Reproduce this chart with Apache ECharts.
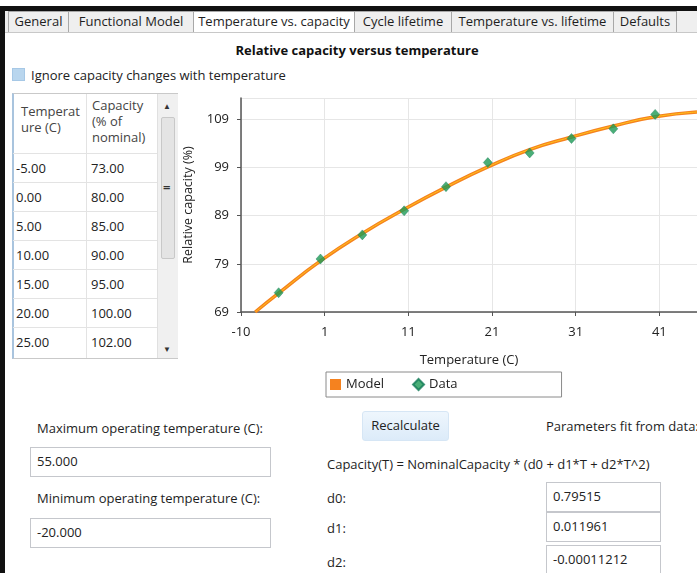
<!DOCTYPE html>
<html>
<head>
<meta charset="utf-8">
<script src="https://cdn.jsdelivr.net/npm/echarts@6/dist/echarts.min.js"></script>
<style>
  html, body { margin:0; padding:0; background:#fff; }
  #page { position:relative; width:697px; height:573px; overflow:hidden; background:#fff;
          font-family:"Open Sans","Noto Sans",sans-serif; font-size:13px; color:#1e1e1e; }
  .abs { position:absolute; white-space:nowrap; }
  .tab { position:absolute; top:11px; height:21px; background:#efefef; border:1px solid #a8a8a8;
         border-bottom:none; box-sizing:border-box; line-height:19px; text-align:center; font-size:13px; color:#1e1e1e; white-space:nowrap; }
  .tab.sel { background:#fff; }
  .tb { position:absolute; border:1px solid #c5c7cc; background:#fff; box-sizing:border-box;
        padding-left:6px; line-height:27px; font-size:13px; color:#222; }
  .cell { position:absolute; font-size:13px; color:#222; }
  .hline { position:absolute; height:1px; background:#e3e3e3; }
</style>
</head>
<body>
<div id="page">
  <!-- black frame -->
  <div class="abs" style="left:0;top:6px;width:697px;height:5px;background:#111;"></div>
  <div class="abs" style="left:0;top:6px;width:5px;height:567px;background:#111;"></div>

  <!-- tabs -->
  <div class="abs" style="left:5px;top:11px;width:692px;height:21px;background:#efefef;border-bottom:1px solid #c8c8c8;"></div>
  <div class="tab" style="left:8px;width:61px;">General</div>
  <div class="tab" style="left:68px;width:126px;">Functional Model</div>
  <div class="tab sel" style="left:193px;width:162px;">Temperature vs. capacity</div>
  <div class="tab" style="left:354px;width:98px;">Cycle lifetime</div>
  <div class="tab" style="left:451px;width:163px;">Temperature vs. lifetime</div>
  <div class="tab" style="left:613px;width:64px;">Defaults</div>

  <!-- title & checkbox -->
  <div class="abs" style="left:5px;width:704px;top:41px;text-align:center;font-weight:bold;font-size:13px;color:#111;">Relative capacity versus temperature</div>
  <div class="abs" style="left:12px;top:68px;width:11px;height:11px;background:#b9d6ee;border:1px solid #a6c8e6;"></div>
  <div class="abs" style="left:31px;top:66px;font-size:13px;color:#222;">Ignore capacity changes with temperature</div>

  <!-- data table -->
  <div class="abs" style="left:12px;top:93px;width:166px;height:266px;border:1px solid #c9c9c9;border-left:2px solid #a9c4de;box-sizing:border-box;background:#fff;"></div>
  <div class="abs" style="left:86px;top:94px;width:1px;height:264px;background:#e3e3e3;"></div>
  <div class="cell" style="left:21px;top:103px;line-height:16px;color:#444;">Temperat<br>ure (C)</div>
  <div class="cell" style="left:92px;top:97px;line-height:16px;color:#444;">Capacity<br>(% of<br>nominal)</div>
  <div class="hline" style="left:13px;top:153px;width:144px;"></div>
  <div class="hline" style="left:13px;top:182px;width:144px;"></div>
  <div class="hline" style="left:13px;top:211px;width:144px;"></div>
  <div class="hline" style="left:13px;top:240px;width:144px;"></div>
  <div class="hline" style="left:13px;top:269px;width:144px;"></div>
  <div class="hline" style="left:13px;top:298px;width:144px;"></div>
  <div class="hline" style="left:13px;top:327px;width:144px;"></div>
  <div id="tableRows"></div>
  <!-- scrollbar -->
  <div class="abs" style="left:157px;top:94px;width:20px;height:264px;background:#f0f0f0;border-left:1px solid #e0e0e0;"></div>
  <div class="abs" style="left:163px;top:100px;font-size:8px;color:#333;">&#9650;</div>
  <div class="abs" style="left:161px;top:117px;width:14px;height:142px;background:#e4e4e4;border:1px solid #c8c8c8;box-sizing:border-box;border-radius:2px;"></div>
  <div class="abs" style="left:163px;top:178px;font-size:13px;font-weight:bold;color:#333;">=</div>
  <div class="abs" style="left:163px;top:343px;font-size:8px;color:#333;">&#9660;</div>

  <!-- chart -->
  <div id="chart" class="abs" style="left:180px;top:85px;width:517px;height:320px;"></div>

  <!-- bottom controls -->
  <div class="abs" style="left:37px;top:419px;">Maximum operating temperature (C):</div>
  <div class="tb" style="left:30px;top:447px;width:241px;height:30px;">55.000</div>
  <div class="abs" style="left:37px;top:489px;">Minimum operating temperature (C):</div>
  <div class="tb" style="left:30px;top:518px;width:241px;height:30px;">-20.000</div>

  <div class="abs" style="left:362px;top:411px;width:87px;height:30px;border-radius:3px;border:1px solid #d6e6f5;background:linear-gradient(#eef6fd,#dcebf9);box-sizing:border-box;text-align:center;line-height:27px;color:#222;">Recalculate</div>
  <div class="abs" style="left:546px;top:417px;">Parameters fit from data:</div>
  <div class="abs" style="left:327px;top:455px;">Capacity(T) = NominalCapacity * (d0 + d1*T + d2*T^2)</div>
  <div class="abs" style="left:327px;top:489px;">d0:</div>
  <div class="abs" style="left:327px;top:519px;">d1:</div>
  <div class="abs" style="left:327px;top:553px;">d2:</div>
  <div class="tb" style="left:546px;top:482px;width:115px;height:30px;">0.79515</div>
  <div class="tb" style="left:546px;top:512px;width:115px;height:30px;">0.011961</div>
  <div class="tb" style="left:546px;top:545px;width:115px;height:30px;">-0.00011212</div>
</div>

<script>
// ---- data ----
var tableTemps = ['-5.00','0.00','5.00','10.00','15.00','20.00','25.00'];
var tableCaps  = ['73.00','80.00','85.00','90.00','95.00','100.00','102.00'];

var dataTemps = [-5, 0, 5, 10, 15, 20, 25, 30, 35, 40];
var dataCaps  = [73, 80, 85, 90, 95, 100, 102, 105, 107, 110];

var modelTemps = [-7.8, -5, 0, 5, 10, 15, 20, 25, 30, 35, 40, 45];
var modelCaps  = [69.0, 72.9, 79.6, 85.3, 90.3, 94.9, 99.1, 102.7, 105.3, 107.6, 109.5, 110.5];

var xAxisTitle = 'Temperature (C)';
var yAxisTitle = 'Relative capacity (%)';
var seriesNames = ['Model', 'Data'];

// ---- table rows ----
var rowsHtml = '';
for (var i = 0; i < tableTemps.length; i++) {
  var rowTop = 159 + i * 29;
  rowsHtml += '<div class="cell" style="left:16px;top:' + rowTop + 'px;">' + tableTemps[i] + '</div>';
  rowsHtml += '<div class="cell" style="left:91px;top:' + rowTop + 'px;">' + tableCaps[i] + '</div>';
}
document.getElementById('tableRows').innerHTML = rowsHtml;

// ---- chart ----
function pairs(xs, ys) { return xs.map(function (x, i) { return [x, ys[i]]; }); }
function roundAway(v) { return String(Math.sign(v) * Math.round(Math.abs(v))); }

var chart = echarts.init(document.getElementById('chart'), null, { renderer: 'canvas' });
var FONT = '"Open Sans","Noto Sans",sans-serif';
chart.setOption({
  animation: false,
  textStyle: { fontFamily: FONT },
  grid: { left: 61, right: 0, top: 13, height: 214, containLabel: false, outerBoundsMode: 'none' },
  legend: {
    data: [
      { name: seriesNames[0], icon: 'rect', itemStyle: { color: '#f5821f' } },
      { name: seriesNames[1], icon: 'diamond', itemStyle: { color: '#1d9a55' } }
    ],
    left: 146, top: 287,
    itemWidth: 11, itemHeight: 11, itemGap: 28,
    padding: [6, 104, 6, 4],
    borderColor: '#8a8a8a', borderWidth: 1,
    textStyle: { fontSize: 13, color: '#222', fontFamily: FONT }
  },
  xAxis: {
    type: 'value', min: -9.5, max: 45, interval: 10,
    name: xAxisTitle, nameLocation: 'middle', nameGap: 42, nameMoveOverlap: false,
    nameTextStyle: { fontSize: 13, color: '#222' },
    axisLine: { show: true, onZero: false, lineStyle: { color: '#555', width: 1.5 } },
    axisTick: { show: true, length: 4, lineStyle: { color: '#555' } },
    axisLabel: { color: '#222', fontSize: 13, margin: 14, showMaxLabel: false,
                 formatter: function (v) { return roundAway(v); } },
    splitLine: { show: true, lineStyle: { color: '#e6e6e6' } }
  },
  yAxis: {
    type: 'value', min: 69, max: 113.4, interval: 10,
    name: yAxisTitle, nameLocation: 'middle', nameGap: 46, nameRotate: 90, nameMoveOverlap: false,
    nameTextStyle: { fontSize: 12.5, color: '#222' },
    axisLine: { show: true, onZero: false, lineStyle: { color: '#555', width: 1.5 } },
    axisTick: { show: true, length: 4, lineStyle: { color: '#555' } },
    axisLabel: { color: '#222', fontSize: 13, margin: 12, showMaxLabel: false,
                 formatter: function (v) { return roundAway(v); } },
    splitLine: { show: true, lineStyle: { color: '#e6e6e6' } }
  },
  series: [
    {
      name: seriesNames[0], type: 'line', smooth: true, symbol: 'none',
      data: pairs(modelTemps, modelCaps),
      lineStyle: { color: '#f5821f', width: 3.5 }, itemStyle: { color: '#f5821f' },
      z: 2
    },
    {
      name: seriesNames[0] + ' ', type: 'line', smooth: true, symbol: 'none',
      data: pairs(modelTemps, modelCaps),
      lineStyle: { color: '#ffc21a', width: 1 }, itemStyle: { color: '#ffc21a' },
      z: 3
    },
    {
      name: seriesNames[1], type: 'scatter', symbol: 'diamond', symbolSize: [9, 10],
      data: pairs(dataTemps, dataCaps),
      itemStyle: { color: '#1d9a55', borderColor: '#137a57', borderWidth: 0.5 },
      z: 4
    }
  ]
});
</script>
</body>
</html>
